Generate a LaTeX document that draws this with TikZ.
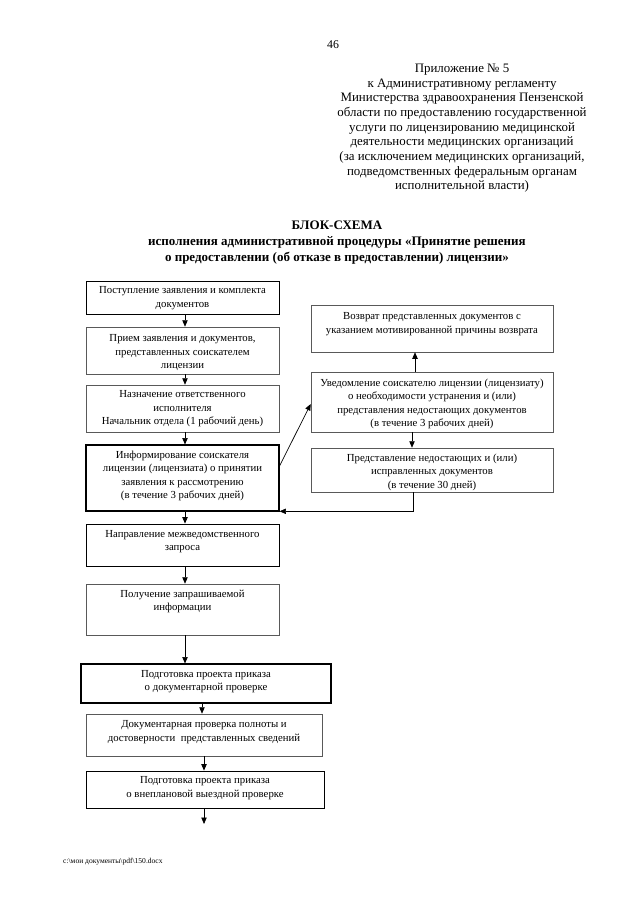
\documentclass[tikz,border=0pt]{standalone}
\usepackage{fontspec}
\setmainfont{Liberation Serif}
\usetikzlibrary{arrows.meta,calc}
\tikzset{
  sz/.style 2 args={minimum width=#1*0.9297pt, minimum height=#2*0.9297pt},
  box/.style={draw=black!65, line width=0.55pt, rectangle, inner sep=0pt},
  boxk/.style={draw=black, line width=0.8pt, rectangle, inner sep=0pt},
  lbl/.style={anchor=north, align=center, inner sep=0pt, font=\fontsize{10}{12.4}\selectfont},
  arr/.style={-{Triangle[length=6pt,width=5pt]}, line width=0.65pt},
  hdr/.style={anchor=north, align=center, inner sep=0pt, font=\fontsize{12}{13.6}\selectfont},
}
\begin{document}
\begin{tikzpicture}[x=0.9297pt, y=-0.9297pt]
\useasboundingbox[fill=white] (0,0) rectangle (640,905);

% page number and header
\node[inner sep=0pt, font=\fontsize{11}{13}\selectfont] (pg) at (333,45) {46};
\node[hdr] (head) at (462,64) {Приложение № 5\\к Административному регламенту\\Министерства здравоохранения Пензенской\\области по предоставлению государственной\\услуги по лицензированию медицинской\\деятельности медицинских организаций\\(за исключением медицинских организаций,\\подведомственных федеральным органам\\исполнительной власти)};

% title
\node[hdr, font=\fontsize{12.1}{14.5}\selectfont\bfseries] (title) at (337,221) {БЛОК-СХЕМА\\исполнения административной процедуры «Принятие решения\\о предоставлении (об отказе в предоставлении) лицензии»};

% left column boxes
\node[boxk, sz={193}{33}] (b1) at (182.5,297.5) {};
\node[box,  sz={193}{47}] (b2) at (182.5,350.5) {};
\node[box,  sz={193}{47}] (b3) at (182.5,408.5) {};
\node[boxk, sz={193}{66}, line width=1pt] (b4) at (182.5,478) {};
\node[boxk, sz={193}{42}] (b5) at (182.5,545) {};
\node[box,  sz={193}{51}] (b6) at (182.5,609.5) {};
\node[boxk, sz={250}{39}, line width=1pt] (b7) at (206,683.5) {};
\node[box,  sz={236}{42}] (b8) at (204,735) {};
\node[boxk, sz={238}{37}] (b9) at (205,789.5) {};
\coordinate (end) at (204,824);

% right column boxes
\node[box, sz={242}{47}] (r1) at (432,328.5) {};
\node[box, sz={242}{60}] (r2) at (432,402) {};
\node[box, sz={242}{44}] (r3) at (432,470) {};

% texts
\node[lbl] (t1) at ($(b1.north)+(0,6)$) {Поступление заявления и комплекта\\документов};
\node[lbl] (t2) at ($(b2.north)+(0,8)$) {Прием заявления и документов,\\представленных соискателем\\лицензии};
\node[lbl] (t3) at ($(b3.north)+(0,6)$) {Назначение ответственного\\исполнителя\\Начальник отдела (1 рабочий день)};
\node[lbl] (t4) at ($(b4.north)+(0,6.5)$) {Информирование соискателя\\лицензии (лицензиата) о принятии\\заявления к рассмотрению\\(в течение 3 рабочих дней)};
\node[lbl] (t5) at ($(b5.north)+(0,6.5)$) {Направление межведомственного\\запроса};
\node[lbl] (t6) at ($(b6.north)+(0,6)$) {Получение запрашиваемой\\информации};
\node[lbl] (t7) at ($(b7.north)+(0,6.5)$) {Подготовка проекта приказа\\о документарной проверке};
\node[lbl] (t8) at ($(b8.north)+(0,7)$) {Документарная проверка полноты и\\достоверности\ \ представленных сведений};
\node[lbl] (t9) at ($(b9.north)+(0,6)$) {Подготовка проекта приказа\\о внеплановой выездной проверке};
\node[lbl] (u1) at ($(r1.north)+(0,8)$) {Возврат представленных документов с\\указанием мотивированной причины возврата};
\node[lbl] (u2) at ($(r2.north)+(0,7)$) {Уведомление соискателю лицензии (лицензиату)\\о необходимости устранения и (или)\\представления недостающих документов\\(в течение 3 рабочих дней)};
\node[lbl] (u3) at ($(r3.north)+(0,6)$) {Представление недостающих и (или)\\исправленных документов\\(в течение 30 дней)};

% connector anchor points
\coordinate (a6) at ($(b6.south)+(2.5,0)$);
\coordinate (a7) at ($(b7.south)+(-4,0)$);
\coordinate (ar1) at ($(r2.north)+(-17,0)$);
\coordinate (ar3) at ($(r2.south)+(-20,0)$);
\coordinate (a3s) at ($(r3.south)+(-19,0)$);
\coordinate (bend) at ($(r3.south)+(-19,19)$);

% connectors, left column
\draw[arr] ($(b1.south)+(2.5,0)$) -- ($(b2.north)+(2.5,0)$);
\draw[arr] ($(b2.south)+(2.5,0)$) -- ($(b3.north)+(2.5,0)$);
\draw[arr] ($(b3.south)+(2.5,0)$) -- ($(b4.north)+(2.5,0)$);
\draw[arr] ($(b4.south)+(2.5,0)$) -- ($(b5.north)+(2.5,0)$);
\draw[arr] ($(b5.south)+(2.5,0)$) -- ($(b6.north)+(2.5,0)$);
\draw[arr] (a6) -- (a6 |- b7.north);
\draw[arr] (a7) -- (a7 |- b8.north);
\draw[arr] (b8.south) -- (b8.south |- b9.north);
\draw[arr] (b9.south -| end) -- (end);

% connectors, right side
\draw[arr] ($(b4.east)+(0,-12)$) -- ($(r2.west)+(0,2)$);
\draw[arr] (ar1) -- (ar1 |- r1.south);
\draw[arr] (ar3) -- (ar3 |- r3.north);
\draw[arr] (a3s) -- (bend) -- (bend -| b4.east);

% footer
\node[anchor=west, inner sep=0pt, font=\fontsize{7}{8}\selectfont] (foot) at (63,862) {c:\textbackslash мои документы\textbackslash pdf\textbackslash 150.docx};
\end{tikzpicture}
\end{document}
